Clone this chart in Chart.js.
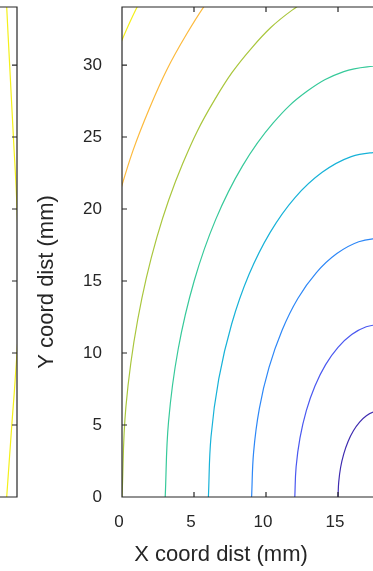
<!DOCTYPE html>
<html>
<head>
<meta charset="utf-8">
<script src="https://cdn.jsdelivr.net/npm/chart.js@4.4.1/dist/chart.umd.min.js"></script>
<style>
  html, body { margin: 0; padding: 0; background: #fff; }
  #wrap { position: relative; width: 373px; height: 571px; overflow: hidden; }
  #main, #side { position: absolute; left: 0; top: 0; }
</style>
</head>
<body>
<div id="wrap">
  <canvas id="main" width="373" height="571"></canvas>
  <canvas id="side" width="18" height="571"></canvas>
</div>
<script>
// Contornos (x, y em mm)
const contour1X = [15, 15.05, 15.18, 15.40, 15.70, 16.07, 16.5, 16.97, 17.48, 18];
const contour1Y = [0, 1.04, 2.05, 3.0, 3.86, 4.60, 5.20, 5.64, 5.91, 6.0];
const contour2X = [12, 12.09, 12.36, 12.80, 13.40, 14.14, 15.0, 15.95, 16.96, 18];
const contour2Y = [0, 2.08, 4.10, 6.0, 7.71, 9.19, 10.39, 11.28, 11.82, 12];
const contour3X = [9, 9.14, 9.54, 10.21, 11.11, 12.21, 13.5, 14.92, 16.44, 18];
const contour3Y = [0, 3.12, 6.16, 9.0, 11.57, 13.79, 15.59, 16.91, 17.73, 18];
const contour4X = [6, 6.18, 6.72, 7.61, 8.81, 10.29, 12, 13.90, 15.92, 18];
const contour4Y = [0, 4.17, 8.21, 12, 15.43, 18.38, 20.78, 22.55, 23.64, 24];
const contour5X = [3, 3.23, 3.90, 5.01, 6.51, 8.36, 10.5, 12.87, 15.40, 18];
const contour5Y = [0, 5.21, 10.26, 15, 19.28, 22.98, 25.98, 28.19, 29.54, 30];
const contour6X = [0, 0.27, 1.09, 2.41, 4.21, 6.43, 9, 11.84, 14.88, 18];
const contour6Y = [0, 6.25, 12.31, 18, 23.14, 27.58, 31.18, 33.83, 35.45, 36];
const contour7X = [-3, -2.68, -1.73, -0.19, 1.91, 4.50, 7.5, 10.82, 14.35, 18];
const contour7Y = [0, 7.29, 14.36, 21, 27.0, 32.17, 36.37, 39.47, 41.36, 42];
const contour8X = [-6, -5.64, -4.55, -2.78, -0.38, 2.57, 6, 9.79, 13.83, 18];
const contour8Y = [0, 8.33, 16.42, 24, 30.85, 36.77, 41.57, 45.11, 47.27, 48];

// Painel vizinho (à esquerda, cortado)
const sideX = [19.2, 19.285, 19.49, 19.75, 19.98, 20.12, 20.1, 19.87, 19.64, 19.285];
const sideY = [36, 34.03, 30, 25, 20.6, 16, 12, 8.1, 5, 0];

const xTicks = [0, 5, 10, 15];
const yTicks = [0, 5, 10, 15, 20, 25, 30];

const contourColors = ['#3f2cb0', '#4a58f0', '#2d87f7', '#17b2d8', '#36c99a', '#a9c63c', '#fcba3d', '#f4f01a'];

const FONT = "'Liberation Sans', Arial, sans-serif";
const AXIS = '#262626';

const contours = [
  [contour1X, contour1Y], [contour2X, contour2Y], [contour3X, contour3Y], [contour4X, contour4Y],
  [contour5X, contour5Y], [contour6X, contour6Y], [contour7X, contour7Y], [contour8X, contour8Y]
];

function toPoints(xs, ys) {
  return xs.map((x, i) => ({ x: x, y: ys[i] }));
}

// Moldura + ticks para dentro
const framePlugin = {
  id: 'framePlugin',
  afterDatasetsDraw(chart) {
    const { ctx, chartArea: a, scales } = chart;
    const tl = 5;
    ctx.save();
    ctx.strokeStyle = AXIS;
    ctx.lineWidth = 1.2;
    ctx.beginPath();
    ctx.moveTo(a.right + 1, a.top);
    ctx.lineTo(a.left, a.top);
    ctx.lineTo(a.left, a.bottom);
    ctx.lineTo(a.right + 1, a.bottom);
    xTicks.forEach(v => {
      const px = scales.x.getPixelForValue(v);
      ctx.moveTo(px, a.bottom); ctx.lineTo(px, a.bottom - tl);
      ctx.moveTo(px, a.top); ctx.lineTo(px, a.top + tl);
    });
    yTicks.forEach(v => {
      const py = scales.y.getPixelForValue(v);
      ctx.moveTo(a.left, py); ctx.lineTo(a.left + tl, py);
    });
    ctx.stroke();

    // Títulos dos eixos
    ctx.fillStyle = AXIS;
    ctx.font = '22px ' + FONT;
    ctx.textAlign = 'center';
    ctx.textBaseline = 'middle';
    ctx.fillText('X coord dist (mm)', 221, 555);
    ctx.translate(47, 282);
    ctx.rotate(-Math.PI / 2);
    ctx.fillText('Y coord dist (mm)', 0, 0);
    ctx.restore();
  }
};

const sideFrame = {
  id: 'sideFrame',
  afterDatasetsDraw(chart) {
    const { ctx, chartArea: a, scales } = chart;
    ctx.save();
    ctx.strokeStyle = AXIS;
    ctx.lineWidth = 1.2;
    ctx.beginPath();
    ctx.moveTo(a.left, a.top);
    ctx.lineTo(a.right, a.top);
    ctx.lineTo(a.right, a.bottom);
    ctx.lineTo(a.left, a.bottom);
    yTicks.forEach(v => {
      const py = scales.y.getPixelForValue(v);
      ctx.moveTo(a.right, py); ctx.lineTo(a.right - 5, py);
    });
    ctx.stroke();
    ctx.restore();
  }
};

new Chart(document.getElementById('main'), {
  type: 'scatter',
  data: {
    datasets: contours.map((c, i) => ({
      data: toPoints(c[0], c[1]),
      showLine: true,
      borderColor: contourColors[i],
      borderWidth: 1.2,
      pointRadius: 0,
      tension: 0.4,
      clip: 0
    }))
  },
  options: {
    responsive: false,
    animation: false,
    layout: { padding: { top: 7, right: 0, left: 0, bottom: 0 } },
    plugins: { legend: { display: false }, tooltip: { enabled: false } },
    scales: {
      x: {
        type: 'linear', min: 0, max: 17.43,
        grid: { display: false, drawTicks: false },
        border: { display: false },
        ticks: { stepSize: 5, includeBounds: false, padding: 15, labelOffset: -3,
                 color: AXIS, font: { family: FONT, size: 17 } },
        afterFit: s => { s.height = 74; s.paddingLeft = 0; s.paddingRight = 0; }
      },
      y: {
        type: 'linear', min: 0, max: 34.03,
        grid: { display: false, drawTicks: false },
        border: { display: false },
        ticks: { stepSize: 5, includeBounds: false, padding: 20,
                 color: AXIS, font: { family: FONT, size: 17 } },
        afterFit: s => { s.width = 122; s.paddingTop = 0; s.paddingBottom = 0; }
      }
    }
  },
  plugins: [framePlugin]
});

new Chart(document.getElementById('side'), {
  type: 'scatter',
  data: {
    datasets: [{
      data: toPoints(sideX, sideY),
      showLine: true,
      borderColor: contourColors[7],
      borderWidth: 1.2,
      pointRadius: 0,
      tension: 0.4,
      clip: 0
    }]
  },
  options: {
    responsive: false,
    animation: false,
    layout: { padding: { top: 7, right: 1, left: 0, bottom: 74 } },
    plugins: { legend: { display: false }, tooltip: { enabled: false } },
    scales: {
      x: { type: 'linear', min: 18.82, max: 20, display: false },
      y: { type: 'linear', min: 0, max: 34.03, display: false }
    }
  },
  plugins: [sideFrame]
});
</script>
</body>
</html>
